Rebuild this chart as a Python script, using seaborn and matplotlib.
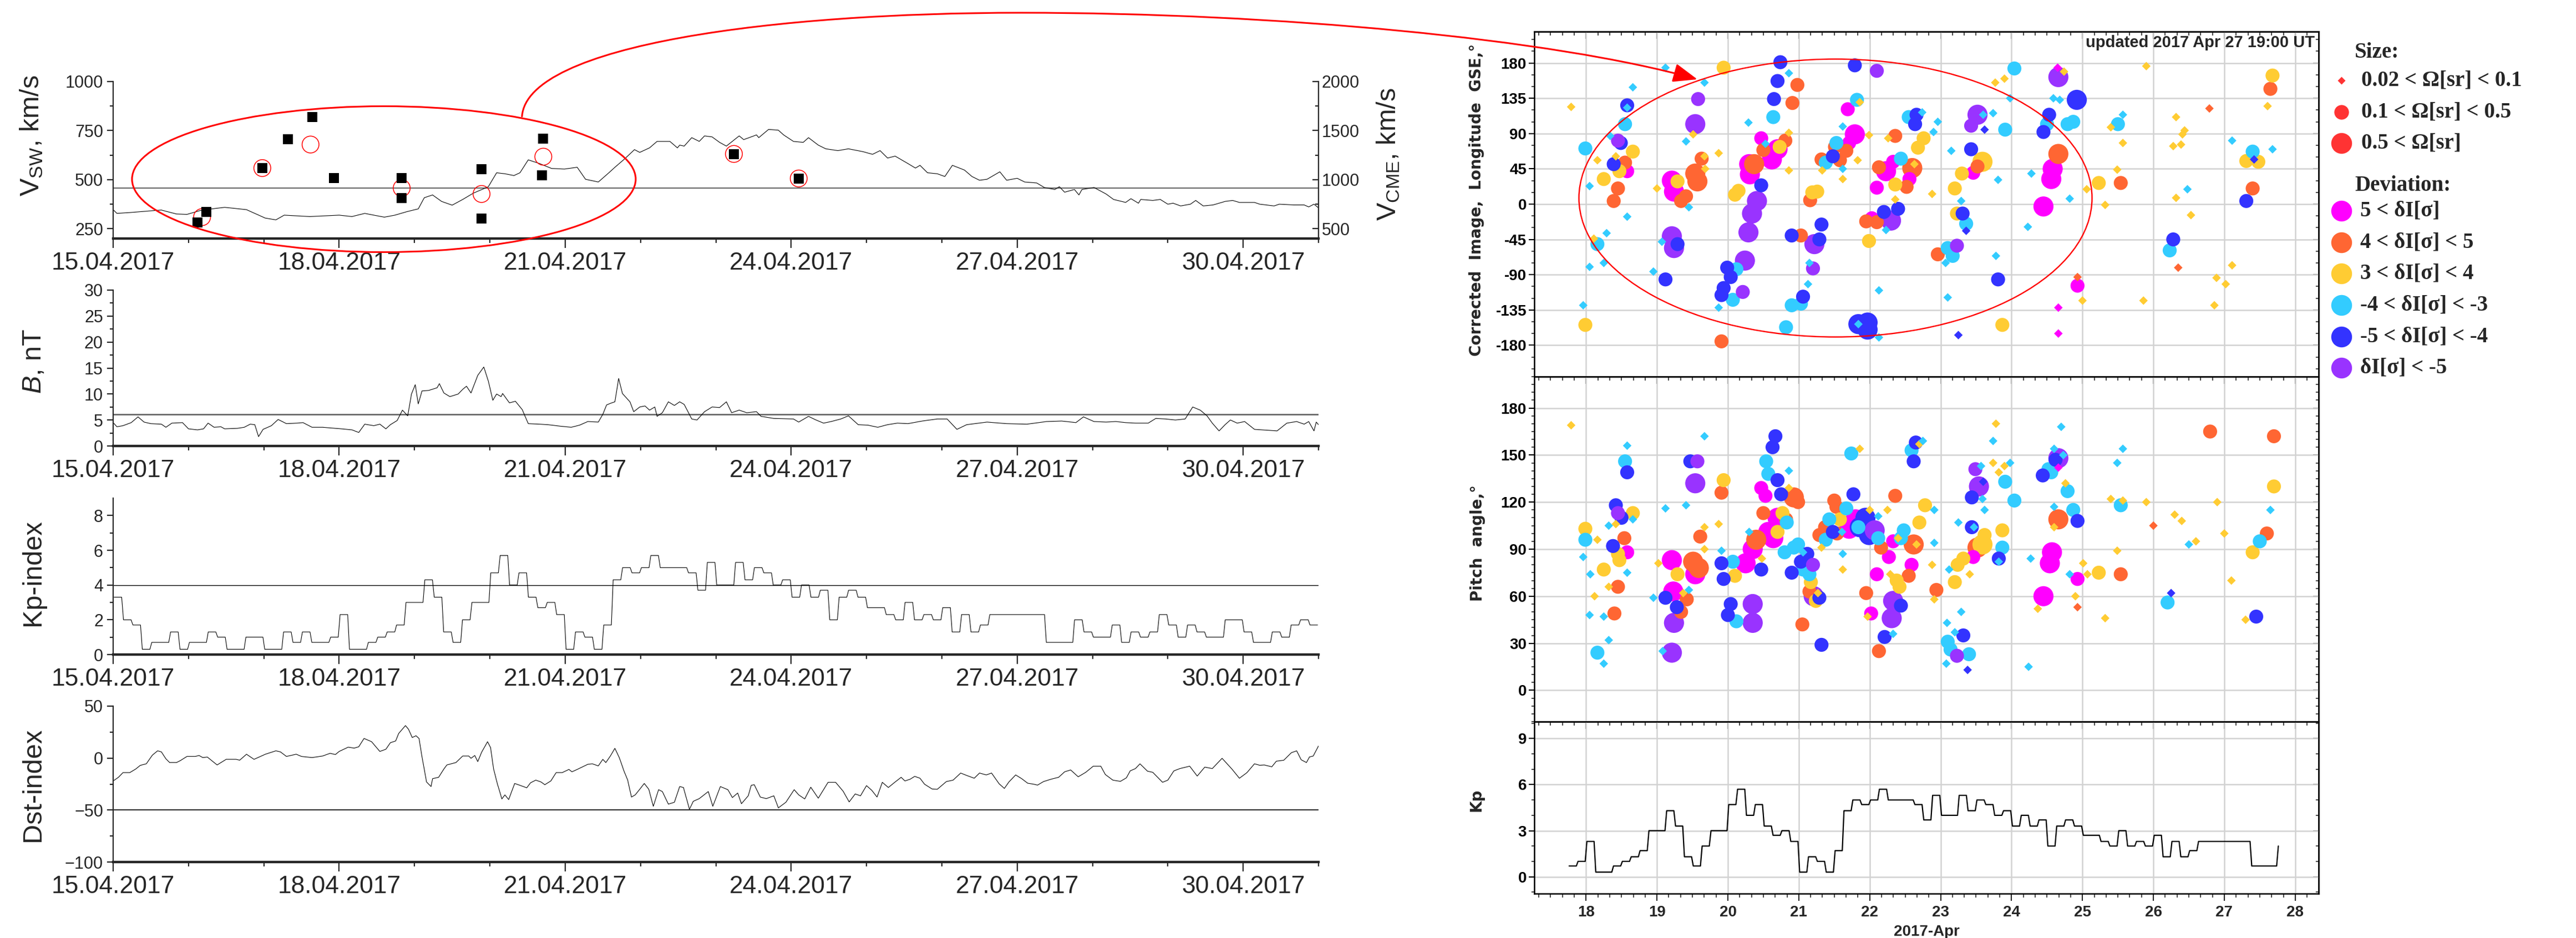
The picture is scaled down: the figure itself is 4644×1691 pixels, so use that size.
import numpy as np
import pandas as pd
import matplotlib
matplotlib.use("Agg")
import matplotlib.pyplot as plt
import seaborn as sns
from matplotlib.patches import Ellipse, FancyArrowPatch
from matplotlib.path import Path
from matplotlib.lines import Line2D
from matplotlib.ticker import FixedLocator, MultipleLocator, NullFormatter

# ====================== DATA ======================
# Left column: days since 15.04.2017 00:00
date_ticks = [0, 3, 6, 9, 12, 15]
date_labels = ['15.04.2017', '18.04.2017', '21.04.2017', '24.04.2017', '27.04.2017', '30.04.2017']

vsw_day = [0, 0.05, 0.24, 0.53, 0.64, 0.84, 0.98, 1.15, 1.31, 1.48, 1.77, 1.88, 2.02, 2.16, 2.27, 2.61, 3.0, 3.17,
           3.34, 3.46, 3.6, 3.74, 3.9, 4.05, 4.13, 4.24, 4.36, 4.5, 4.64, 4.78, 4.98, 5.09, 5.2, 5.32, 5.4, 5.51,
           5.66, 5.82, 5.99, 6.16, 6.27, 6.44, 6.58,
           6.66, 6.79, 6.92, 6.99, 7.12, 7.22, 7.39, 7.49, 7.52, 7.58, 7.68, 7.78, 7.85, 7.95, 8.05, 8.14, 8.31, 8.37,
           8.54, 8.57, 8.7, 8.83, 8.9, 9.03, 9.16, 9.23, 9.36, 9.46, 9.62, 9.76, 9.95, 10.08, 10.18, 10.28, 10.38,
           10.55, 10.65, 10.71, 10.81, 10.94, 11.04, 11.14, 11.3, 11.4, 11.5, 11.6, 11.77, 11.86, 12.0, 12.1, 12.26,
           12.36, 12.5, 12.56, 12.63, 12.76, 12.82, 12.86, 13.02, 13.18, 13.28, 13.44, 13.51, 13.61, 13.64, 13.8,
           13.9, 14.0, 14.07, 14.17, 14.3, 14.37, 14.47, 14.6, 14.76, 14.86, 14.95, 15.15, 15.22, 15.41, 15.48,
           15.67, 15.81, 15.87, 15.94, 16.0]
vsw_val = [347, 328, 333, 342, 345, 325, 323, 342, 351, 359, 347, 328, 304, 295, 319, 312, 319, 312, 328, 319,
           309, 319, 337, 351, 408, 422, 389, 370, 399, 431, 464, 535, 530, 521, 535, 601, 582, 557, 554, 563,
           502, 488, 535,
           563, 606, 653, 639, 662, 695, 695, 662, 676, 671, 714, 695, 723, 718, 690, 671, 723, 704, 728, 714,
           756, 752, 728, 695, 690, 714, 676, 657, 648, 657, 643, 629, 648, 610, 620, 582, 559, 573, 535, 530,
           516, 573, 549, 516, 497, 502, 540, 497, 507, 488, 483, 460, 450, 464, 436, 450, 422, 450, 460, 427,
           399, 384, 403, 380, 399, 394, 399, 375, 380, 366, 375, 394, 366, 371, 389, 394, 384, 384, 375, 366,
           375, 371, 371, 361, 375, 356]
vsw_ref = 458

cme_day = [1.12, 1.24, 1.98, 2.32, 2.64, 2.93, 3.83, 3.83, 4.89, 4.89, 5.71, 5.69, 8.24, 9.10]
cme_speed = [562, 674, 1118, 1414, 1640, 1018, 1014, 810, 1108, 604, 1418, 1042, 1262, 1012]
arr_day = [1.18, 1.98, 2.62, 3.83, 4.89, 5.71, 8.24, 9.10]
arr_speed = [309, 559, 679, 457, 427, 617, 631, 506]

b_day = [0, 0.05, 0.13, 0.24, 0.33, 0.41, 0.5, 0.64, 0.7, 0.78, 0.92, 1.0, 1.12, 1.2, 1.26, 1.34, 1.43, 1.48,
         1.65, 1.74, 1.82, 1.88, 1.93, 1.99, 2.1, 2.19, 2.3, 2.44, 2.52, 2.64, 2.78, 2.95, 3.03, 3.17, 3.26,
         3.34, 3.46, 3.54, 3.62, 3.68, 3.77, 3.84, 3.91, 3.96, 4.01, 4.05, 4.1, 4.19, 4.3, 4.33, 4.39, 4.47,
         4.58, 4.64, 4.69, 4.75, 4.84, 4.92, 4.98, 5.04, 5.09, 5.15, 5.17, 5.26, 5.34, 5.43, 5.51, 5.66, 5.77,
         5.94, 6.08, 6.19, 6.3, 6.44, 6.5, 6.55,
         6.6, 6.66, 6.71, 6.76, 6.86, 6.91, 6.99, 7.06, 7.12, 7.19, 7.22, 7.29, 7.37, 7.45, 7.52, 7.58, 7.68,
         7.75, 7.85, 7.95, 8.05, 8.14, 8.21, 8.31, 8.41, 8.54, 8.6, 8.77, 9.03, 9.1, 9.23, 9.33, 9.43, 9.53,
         9.66, 9.76, 9.89, 10.02, 10.15, 10.28, 10.41, 10.55, 10.74, 10.94, 11.07, 11.2, 11.33, 11.6, 11.86,
         12.13, 12.39, 12.59, 12.78, 12.88, 13.02, 13.18, 13.31, 13.44, 13.57, 13.74, 13.84, 13.97, 14.1,
         14.23, 14.33, 14.43, 14.52, 14.59, 14.68, 14.76, 14.83, 14.92, 15.02, 15.15, 15.35, 15.45, 15.58,
         15.71, 15.81, 15.87, 15.94, 15.97, 16.0]
b_val = [4.5, 3.7, 3.9, 4.5, 5.6, 4.6, 4.3, 4.2, 3.6, 4.4, 4.5, 3.3, 3.1, 3.3, 4.4, 3.6, 3.7, 3.3, 3.4, 3.6,
         4.2, 4.1, 1.8, 3.2, 3.9, 5.1, 4.3, 4.4, 4.5, 3.6, 3.6, 3.4, 3.3, 3.1, 2.6, 4.2, 3.9, 4.2, 3.3, 4.1,
         4.9, 6.9, 5.8, 10.0, 11.8, 8.1, 10.6, 10.7, 11.2, 12.0, 10.2, 9.5, 10.0, 10.9, 11.5, 10.2, 13.6, 15.2,
         12.5, 8.8, 10.0, 9.5, 10.1, 8.3, 8.6, 7.0, 4.3, 4.2, 4.1, 3.8, 3.6, 4.0, 4.7, 4.6, 6.1, 7.9,
         8.2, 8.5, 13.0, 10.1, 8.5, 6.6, 7.5, 7.7, 6.9, 7.5, 5.7, 6.4, 8.5, 7.8, 8.5, 8.0, 5.2, 5.0, 6.6, 7.5,
         7.4, 8.5, 6.4, 6.9, 6.4, 6.6, 5.7, 5.3, 5.2, 4.6, 5.7, 5.0, 4.4, 4.7, 5.2, 5.8, 4.1, 4.0, 3.6, 4.1,
         4.4, 4.3, 4.8, 5.2, 5.2, 3.2, 4.1, 4.6, 4.3, 4.2, 4.7, 4.8, 4.5, 5.6, 4.7, 4.6, 4.7, 4.5, 4.4, 4.4,
         5.3, 5.2, 5.0, 5.2, 7.5, 6.9, 5.8, 4.4, 2.9, 4.1, 5.0, 4.4, 4.7, 3.2, 3.0, 2.9, 4.4, 4.7, 4.2, 4.7,
         2.9, 4.6, 4.1]
b_ref = 6.1

# 3-hourly Kp values starting 15.04.2017 00 UT
kp_val = [3.3, 2.0, 1.7, 0.3, 0.7, 0.7, 1.3, 0.3, 0.7, 0.7, 1.3, 1.0, 0.3, 0.3, 1.0, 1.0,
          0.3, 0.3, 1.3, 0.7, 1.3, 0.7, 0.7, 1.0, 2.3, 0.3, 0.3, 0.7, 1.0, 1.3, 1.7, 3.0,
          3.0, 4.3, 3.3, 1.3, 0.7, 2.0, 3.0, 3.0, 4.7, 5.7, 4.0, 4.7, 3.3, 2.7, 3.0, 2.3,
          0.3, 1.3, 1.0, 0.3, 1.7, 4.3, 5.0, 4.7, 5.0, 5.7, 5.0, 5.0, 5.0, 4.7, 3.7, 5.3,
          4.0, 4.0, 5.3, 4.3, 5.0, 4.7, 4.0, 4.3, 3.3, 4.0, 3.3, 3.7, 2.0, 3.3, 3.7, 3.3,
          2.7, 2.7, 2.3, 2.0, 3.0, 2.0, 2.3, 2.0, 2.7, 1.3, 2.3, 1.3, 1.7, 2.3, 2.3, 2.3,
          2.3, 2.3, 2.3, 0.7, 0.7, 0.7, 2.0, 1.3, 1.0, 1.0, 1.7, 0.7, 1.3, 1.0, 1.3, 2.3,
          1.7, 1.0, 1.7, 1.3, 1.0, 1.0, 2.0, 2.0, 1.3, 0.7, 0.7, 1.3, 1.0, 1.7, 2.0, 1.7]
kp_ref = 4

dst_day = [0, 0.07, 0.13, 0.22, 0.3, 0.36, 0.44, 0.52, 0.59, 0.64, 0.7, 0.75, 0.84, 0.89, 0.98, 1.09, 1.14,
           1.19, 1.25, 1.38, 1.5, 1.63, 1.68, 1.77, 1.87, 2.02, 2.16, 2.22, 2.3, 2.43, 2.5, 2.64, 2.78, 2.88,
           2.95, 3.0, 3.12, 3.2, 3.26, 3.33, 3.43, 3.54, 3.62, 3.68, 3.75, 3.79, 3.88, 3.92, 3.97, 4.02, 4.06,
           4.1, 4.16, 4.22, 4.24, 4.32, 4.39, 4.43, 4.55, 4.64, 4.72, 4.75, 4.8, 4.84, 4.89, 4.97, 5.01, 5.05,
           5.1, 5.16, 5.2, 5.25, 5.33, 5.4, 5.49, 5.54, 5.61, 5.68, 5.73, 5.81, 5.88, 5.96, 6.05, 6.09, 6.16,
           6.3, 6.36, 6.44, 6.5, 6.54,
           6.6, 6.66, 6.72, 6.78, 6.83, 6.88, 6.93, 6.99, 7.05, 7.11, 7.17, 7.24, 7.29, 7.37, 7.45, 7.52, 7.57,
           7.65, 7.7, 7.78, 7.9, 7.96, 8.06, 8.16, 8.22, 8.29, 8.34, 8.43, 8.47, 8.51, 8.59, 8.67, 8.77, 8.83,
           8.93, 9.04, 9.1, 9.18, 9.26, 9.36, 9.49, 9.59, 9.69, 9.77, 9.85, 9.92, 10.0, 10.07, 10.14, 10.21,
           10.29, 10.38, 10.46, 10.51, 10.58, 10.64, 10.71, 10.77, 10.87, 10.94, 11.06, 11.15, 11.25, 11.33,
           11.43, 11.5, 11.59, 11.66, 11.76, 11.83, 11.89, 11.98, 12.06, 12.14, 12.22, 12.27, 12.35, 12.45,
           12.55, 12.63, 12.71, 12.81, 12.91, 13.01, 13.11, 13.17, 13.27, 13.37, 13.45, 13.5, 13.57, 13.63,
           13.73, 13.8, 13.93, 14.0, 14.08, 14.16, 14.29, 14.39, 14.49, 14.59, 14.72, 14.85, 14.95, 15.05,
           15.15, 15.22, 15.28, 15.38, 15.44, 15.54, 15.64, 15.71, 15.77, 15.84, 15.88, 15.93, 16.0]
dst_val = [-22, -18.5, -14, -14, -10.5, -7, -5.5, 2.8, 7, 6, -0.7, -4.3, -4.3, -2.5, 1.6, 1.6, 2.5, 0.5, 1,
           -6.6, -1.2, -1.2, -2, 3.7, -1.2, 3.7, 7, 6, 1.6, 3.7, 1.6, 0.5, 2, 4.6, 3.4, 6.4, 10.5, 9.6, 10.9,
           18.9, 15.8, 6.4, 8.5, 14.8, 16.5, 23.7, 31.3, 27.8, 19.8, 21.5, 18.9, 1.1, -23, -27.4, -19.8, -18.5,
           -10.5, -6.6, -4.3, 2, 2, -0.2, 2.5, -3.4, 5.5, 15.8, 10, -10.5, -24.7, -39.3, -35.4, -39.9, -24.4,
           -26.2, -28.6, -23.8, -21.2, -23, -25.6, -22, -14, -14, -10.9, -13.2, -10.9, -6, -5.5, -7.5, -1.2,
           -4.3,
           2, 9.4, 0.2, -12.3, -21.2, -37.5, -35.4, -30, -24.4, -30, -46.4, -30.4, -32.2, -44.3, -42.5, -27.4,
           -28.3, -49.3, -41.6, -39, -32.2, -46.4, -27.4, -30.4, -38, -33.6, -43.9, -36.3, -26.2, -25.6, -37.5,
           -39, -36.3, -47.9, -42.5, -30.4, -35.4, -39.3, -28, -38.6, -23.3, -23.3, -31.9, -42.2, -34.5, -36.3,
           -26.5, -31, -37.5, -23.3, -28.3, -23, -18.5, -22, -20.3, -17.6, -19.4, -25.1, -29.7, -30, -22.6,
           -21.2, -14.4, -16.7, -19.4, -14.4, -16.2, -14.4, -24.7, -29.2, -23, -16.2, -19.8, -24.2, -25.1, -26,
           -22.6, -20.3, -18.5, -13.2, -11.4, -18, -13.7, -7.8, -7.8, -15.8, -21.2, -22.4, -19, -12.3, -10.1,
           -5.5, -12.6, -13.7, -23.3, -21.2, -12.3, -10.1, -7.8, -17.3, -8.7, -10.1, -0.2, -10.5, -19.4, -14,
           -5.5, -6.9, -6.6, -8.4, -3, -2, 5.2, 7, -1.6, -4.3, 1.1, 2, 11.7]
dst_ref = -50

# Right column: day of April 2017.  size classes: s (0.02-0.1 sr), m (0.1-0.5 sr), l (>0.5 sr)
day_labels_r = ['18', '19', '20', '21', '22', '23', '24', '25', '26', '27', '28']
dev_codes = ['M', 'O', 'Y', 'C', 'B', 'P']
dev_colors = ['#FF00FF', '#FF6633', '#FFCC33', '#33CCFF', '#3333FF', '#9933FF']
size_labels = ['0.02 < \u03a9[sr] < 0.1', '0.1 < \u03a9[sr] < 0.5', '0.5 < \u03a9[sr]']
dev_labels = ['5 < \u03b4I[\u03c3]', '4 < \u03b4I[\u03c3] < 5', '3 < \u03b4I[\u03c3] < 4',
              '-4 < \u03b4I[\u03c3] < -3', '-5 < \u03b4I[\u03c3] < -4', '\u03b4I[\u03c3] < -5']

# --- Longitude panel ---
lon_M_day = [19.21, 19.24, 18.58, 20.31, 20.30, 20.47, 20.62, 20.70, 21.71, 21.79, 21.69, 22.03, 22.10, 22.23,
             22.33, 22.56, 23.46, 24.56, 24.58, 24.45, 24.65, 24.93, 24.66, 24.66]
lon_M_val = [30, 16, 42, 38, 51, 84, 57, 70, 78, 89, 121, -18, 21, 42, 54, 32, 40, 32, 45, -3, 174, -104, -132, -165]
lon_M_size = "llmllmllmlmmmlmmmlllsmss"

lon_O_day = [18.39, 18.45, 18.55, 19.54, 19.57, 19.41, 19.34, 19.63, 19.91, 20.37, 20.50, 20.81, 20.98, 20.91,
             21.03, 21.16, 21.32, 21.51, 21.58, 21.67, 21.95, 22.10, 22.13, 22.36, 22.52, 22.60, 22.96, 23.52,
             24.66, 24.93, 25.54, 26.35, 26.79, 27.40, 27.65]
lon_O_val = [4, 20, 53, 39, 29, 10, 4, 58, -175, 51, 69, 81, 152, 129, -40, 5, 57, 73, 56, 68, -22, -23, 47, 87,
             22, 46, -64, 48, 64, -93, 27, -81, 122, 20, 147]
lon_O_size = "mmmllmmmmlmmmmmmmmmmmmmmmlmmlsmssmm"

lon_Y_day = [17.79, 17.99, 18.16, 18.11, 18.25, 18.42, 18.47, 18.66, 19.00, 19.29, 19.51, 19.67, 19.68, 19.87,
             19.94, 20.10, 20.15, 20.73, 20.86, 20.86, 21.19, 21.26, 21.33, 21.62, 21.86, 21.99, 21.83, 21.99,
             22.36, 22.26, 22.36, 22.63, 22.68, 22.76, 22.88, 23.23, 23.20, 23.30, 23.59, 23.77, 23.90, 23.87,
             24.74, 25.00, 25.06, 25.23, 25.32, 25.40, 25.57, 25.49, 25.86, 25.90, 26.32, 26.41, 26.44, 26.28,
             26.39, 26.32, 26.53, 27.11, 26.89, 27.02, 26.86, 27.31, 27.48, 27.68, 27.61]
lon_Y_val = [124, -154, 56, -44, 32, 61, 42, 67, 20, 29, 89, 61, 45, 65, 174, 12, 17, 73, 91, 43, 15, 16, 43, 32,
             130, 88, 56, -47, 6, 84, 25, 51, 72, 84, 13, -12, 20, 39, 54, 155, 160, -154, 169, -123, 19, 27, -1,
             98, 78, 44, -123, 176, 111, 89, 94, 74, 76, 8, -14, -78, -94, -102, -129, 55, 54, 164, 125]
lon_Y_size = "smssmsmmsm" "ssssmmmmss" "mmsssssmss" "msmmsmmmls" "smsssmssss" "ssssssssss" "sssmmms"

lon_C_day = [17.99, 17.96, 18.05, 18.05, 18.16, 18.25, 18.29, 18.34, 18.55, 18.58, 18.66, 18.58, 19.12, 18.95,
             19.07, 19.41, 19.45, 19.67, 19.87, 20.12, 20.07, 20.29, 20.53, 20.64, 20.86, 21.15, 21.13, 21.03,
             20.90, 20.82, 21.38, 21.53, 21.62, 21.82, 21.62, 22.23, 22.13, 22.13, 21.84, 22.44, 22.90, 22.96,
             22.55, 22.74, 23.10, 23.17, 23.07, 23.10, 23.36, 23.29, 23.15, 23.60, 23.74, 23.81, 23.78, 23.91,
             23.98, 24.04, 24.28, 24.23, 24.50, 24.59, 24.68, 24.79, 24.87, 24.82, 25.50, 25.57, 26.48, 26.23,
             27.11, 27.40, 27.68]
lon_C_val = [71, -129, 23, -80, -51, -75, -37, 87, 102, 123, 149, -16, 174, -86, -48, 80, -4, 155, -132, -83,
             -122, 104, 77, 111, 167, -75, -102, -127, -129, -157, 53, 78, 45, 133, 99, -33, -110, -170, -153, 58,
             92, 105, 111, 117, -56, -66, -75, -119, -25, 4, 68, 114, 116, 31, -66, 95, 135, 173, 39, -29, 102,
             135, 133, 102, 105, 7, 102, 114, 19, -59, 81, 67, 70]
lon_C_size = "msssmsssms" "sssssssssm" "mssmsssmmm" "mmsmsssssm" "ssmsmmssms" "sssssmsmss" "mssmmsmssm" "sms"

lon_B_day = [18.39, 18.49, 18.58, 19.12, 19.29, 19.99, 20.04, 19.94, 19.91, 20.47, 20.65, 20.70, 20.74, 20.90,
             21.32, 21.29, 21.06, 21.48, 21.79, 22.20, 22.40, 21.84, 21.97, 21.97, 22.64, 22.66, 23.25, 23.31,
             23.36, 23.43, 23.62, 23.81, 24.45, 24.53, 24.92, 26.28, 27.42, 27.31]
lon_B_val = [51, 78, 126, -96, -51, -81, -93, -107, -116, 24, 134, 157, 181, -40, -26, -45, -118, 61, 177, -10,
             -6, -153, -151, -160, 102, 114, -167, -12, -34, 70, 95, -96, 92, 114, 133, -45, 57, 4]
lon_B_size = "mmmmmmmmmm" "mmmmmmmmmm" "mlllmmsmsm" "smmmlmsm"

lon_P_day = [18.45, 19.21, 19.24, 19.54, 19.58, 20.24, 20.21, 20.29, 20.34, 20.41, 21.22, 21.20, 22.30, 22.10,
             23.23, 23.43, 23.52, 24.66]
lon_P_val = [81, -41, -56, 102, 134, -72, -112, -36, -12, 4, -51, -82, -21, 170, -53, 100, 114, 162]
lon_P_size = "mlllmlmllllmlmmmll"

# --- Pitch-angle panel ---
pit_M_day = [18.58, 19.21, 19.23, 19.54, 20.25, 20.35, 20.47, 20.53, 20.57, 20.64, 20.70, 21.71, 21.80, 22.33,
             22.27, 22.10, 22.02, 22.59, 23.46, 24.66, 24.57, 24.54, 24.93, 24.45]
pit_M_val = [88, 83, 63, 74, 81, 90, 129, 124, 101, 97, 110, 103, 109, 95, 85, 74, 49, 80, 85, 142, 88, 81, 71, 60]
pit_M_size = "mlllllmmll" "lllmmmmmms" "llml"

pit_O_day = [18.45, 18.40, 18.54, 19.42, 19.34, 19.51, 19.59, 19.61, 19.91, 20.40, 20.50, 20.82, 20.93, 20.99,
             21.15, 21.05, 21.29, 21.37, 21.54, 21.53, 21.50, 22.16, 22.36, 21.95, 22.13, 22.55, 22.62, 22.94,
             23.52, 24.66, 24.93, 25.54, 26.00, 26.80, 27.60, 27.70]
pit_O_val = [66, 49, 97, 58, 50, 82, 78, 98, 126, 96, 113, 109, 123, 120, 63, 42, 99, 104, 100, 117, 121, 91, 124,
             62, 25, 73, 93, 64, 91, 109, 53, 74, 105, 165, 100, 162]
pit_O_size = "mmmmmllmml" "mmlmmmmmmm" "mmmmmmlmll" "smsmmm"

pit_Y_day = [17.79, 17.99, 18.12, 18.16, 18.25, 18.32, 18.42, 18.45, 18.47, 18.66, 19.02, 19.29, 19.37, 19.67,
             19.67, 19.87, 19.94, 20.10, 20.48, 20.70, 20.77, 20.86, 21.17, 21.24, 21.27, 21.32, 21.58, 21.62,
             21.86, 22.00, 22.25, 22.40, 22.29, 22.38, 22.42, 21.97, 22.66, 22.70, 22.78, 22.70, 22.88, 22.91,
             23.20, 23.24, 23.32, 23.41, 23.59, 23.62, 23.74, 23.78, 23.82, 23.90, 23.87, 24.76, 24.60, 25.01,
             25.07, 24.90, 24.37, 25.23, 25.32, 25.40, 25.57, 25.49,
             25.90, 26.30, 26.40, 26.60, 26.90, 27.00, 27.10, 27.30, 27.40, 27.70]
pit_Y_val = [169, 103, 60, 96, 77, 66, 106, 87, 83, 113, 81, 74, 62, 104, 90, 106, 134, 73, 84, 101, 113, 129, 69,
             57, 62, 91, 109, 77, 154, 115, 115, 97, 74, 70, 66, 47, 93, 107, 118, 157, 80, 58, 69, 80, 84, 74, 93,
             99, 145, 170, 139, 143, 102, 132, 104, 81, 74, 60, 52, 75, 46, 122, 121, 89,
             120, 112, 108, 95, 120, 100, 70, 45, 88, 130]
pit_Y_size = "smssmssmmm" "smssssmmsm" "msmmssmsss" "sssmmssmms" "ssmmmslmss" "ssmssssssm" "ssss" "ssssssssmm"

pit_C_day = [17.99, 17.96, 18.06, 18.05, 18.16, 18.25, 18.25, 18.32, 18.32, 18.58, 18.58, 18.55, 18.66, 18.95,
             19.12, 19.08, 19.41, 19.45, 19.67, 19.91, 20.07, 20.12, 20.30, 20.54, 20.57, 20.83, 20.86, 20.80,
             20.93, 20.99, 21.06, 21.06, 21.15, 21.38, 21.43, 21.61, 21.62, 21.67, 21.84, 21.74, 22.12, 22.12,
             22.44, 22.48, 22.33, 22.91, 22.59, 22.75, 22.91, 23.10, 23.14, 23.09, 23.08, 23.40, 23.20, 23.29,
             23.12, 23.47, 23.25, 23.59, 23.62, 23.57, 23.74, 23.98, 23.91, 23.82, 23.87, 24.04, 24.24, 24.27,
             24.52, 24.56, 24.73, 24.70, 24.60, 24.79, 24.60, 24.87, 24.82, 25.54, 25.57, 25.49,
             26.50, 26.20, 27.50, 27.65]
pit_C_val = [96, 85, 74, 48, 24, 17, 47, 105, 32, 75, 156, 146, 109, 59, 116, 25, 118, 64, 162, 89, 82, 44, 101,
             146, 138, 107, 140, 88, 91, 93, 88, 77, 74, 96, 109, 101, 87, 116, 104, 151, 97, 111, 97, 102, 36,
             115, 153, 159, 94, 31, 26, 43, 17, 23, 37, 50, 77, 104, 107, 122, 115, 143, 159, 145, 133, 82, 91,
             121, 15, 84, 141, 139, 150, 168, 154, 127, 117, 115, 74, 118, 154, 145,
             93, 56, 95, 115]
pit_C_size = "msssmsssss" "smssssssss" "mmsmmmsmmm" "smmmmssmmm" "msmmssmssm" "mssmssssss" "ssssmsmmss" "mmsssmsmsm" "ss" "smms"

pit_B_day = [18.38, 18.42, 18.50, 18.58, 19.12, 19.28, 19.47, 19.91, 19.94, 20.04, 20.00, 20.47, 20.70, 20.75,
             20.63, 20.67, 20.90, 21.12, 21.03, 21.29, 21.32, 21.48, 21.77, 21.86, 21.94, 21.99, 22.44, 22.21,
             22.62, 22.65, 23.32, 23.38, 23.44, 23.44, 23.60, 23.82, 24.44, 24.62, 24.93, 26.25, 27.45]
pit_B_val = [92, 118, 110, 139, 59, 53, 146, 81, 71, 55, 48, 77, 134, 125, 155, 162, 75, 87, 82, 59, 29, 101, 125,
             104, 110, 99, 54, 34, 146, 158, 35, 13, 104, 123, 133, 84, 137, 147, 108, 62, 47]
pit_B_size = "mmmmmmmmmm" "mmmmmmmmmm" "mmmlllmmmm" "msmmsmmmm" "sm"

pit_P_day = [18.45, 19.21, 19.24, 19.57, 19.54, 20.35, 20.35, 21.20, 21.21, 22.07, 22.33, 22.31, 23.23, 23.49,
             23.54, 24.66]
pit_P_val = [113, 24, 43, 146, 132, 55, 43, 80, 60, 102, 57, 46, 22, 141, 130, 148]
pit_P_size = "mllmlllmllllmmll"

# ====================== STYLE / LAYOUT ======================
sns.set_theme(style="ticks")
NARROW = ['Liberation Sans Narrow', 'Liberation Sans', 'DejaVu Sans']
SANS = ['Liberation Sans', 'DejaVu Sans']
BOLD_SANS = ['DejaVu Sans']
SERIF = ['Liberation Serif', 'DejaVu Serif']
plt.rcParams['font.family'] = NARROW
plt.rcParams['mathtext.fontset'] = 'custom'
plt.rcParams['mathtext.rm'] = 'Liberation Sans'
plt.rcParams['mathtext.it'] = 'Liberation Sans:italic'
plt.rcParams['axes.linewidth'] = 1.5

W, H = 4644, 1691
fig = plt.figure(figsize=(W / 100, H / 100), dpi=100, facecolor='white')


def box(x0, y0, x1, y1):
    return [x0 / W, 1 - y1 / H, (x1 - x0) / W, (y1 - y0) / H]


def fx(x):
    return x / W


def fy(y):
    return 1 - y / H


def left_axes(y0, y1, ylim, major, minor):
    ax = fig.add_axes(box(204, y0, 2377, y1))
    ax.set_xlim(0, 16)
    ax.set_ylim(*ylim)
    ax.xaxis.set_major_locator(FixedLocator(date_ticks))
    ax.xaxis.set_minor_locator(MultipleLocator(1))
    ax.set_xticklabels(date_labels)
    ax.yaxis.set_major_locator(FixedLocator(major))
    ax.yaxis.set_minor_locator(FixedLocator(minor))
    for s in ('top', 'right'):
        ax.spines[s].set_visible(False)
    ax.spines['bottom'].set_linewidth(3.2)
    ax.spines['left'].set_linewidth(1.6)
    ax.tick_params(axis='x', which='major', direction='out', length=12, width=1.6, labelsize=32, pad=5)
    ax.tick_params(axis='x', which='minor', direction='out', length=6, width=1.6)
    ax.tick_params(axis='y', which='major', direction='out', length=8, width=1.6, labelsize=22, pad=5)
    ax.tick_params(axis='y', which='minor', direction='out', length=4, width=1.6)
    return ax


def finish(ax):
    ax.set_xlabel('')
    ax.set_ylabel('')


# ---- Panel 1: solar wind speed + CME speeds ----
ax1 = left_axes(147, 430, (200, 1000), [250, 500, 750, 1000], [375, 625, 875])
sns.lineplot(x=vsw_day, y=vsw_val, ax=ax1, color='black', linewidth=0.8)
ax1.axhline(vsw_ref, color='#555555', lw=1.3, zorder=1)
sns.scatterplot(x=arr_day, y=arr_speed, ax=ax1, marker='o', s=480, facecolor='none', edgecolor='red',
                linewidth=1.1, zorder=6)
finish(ax1)
ax1b = ax1.twinx()
ax1b.set_ylim(400, 2000)
ax1b.yaxis.set_major_locator(FixedLocator([500, 1000, 1500, 2000]))
ax1b.yaxis.set_minor_locator(FixedLocator([750, 1250, 1750]))
for s in ('top', 'left', 'bottom'):
    ax1b.spines[s].set_visible(False)
ax1b.spines['right'].set_linewidth(1.6)
ax1b.tick_params(axis='y', which='major', direction='in', length=8, width=1.6, labelsize=22, pad=4)
ax1b.tick_params(axis='y', which='minor', direction='in', length=4, width=1.6)
sns.scatterplot(x=cme_day, y=cme_speed, ax=ax1b, marker='s', s=175, color='black', linewidth=0, zorder=5)
finish(ax1b)

# ---- Panel 2: B ----
ax2 = left_axes(523, 804, (0, 30), [0, 5, 10, 15, 20, 25, 30], [2.5, 7.5, 12.5, 17.5, 22.5, 27.5])
sns.lineplot(x=b_day, y=b_val, ax=ax2, color='black', linewidth=0.8)
ax2.axhline(b_ref, color='#6a6a6a', lw=2.0, zorder=1)
finish(ax2)

# ---- Panel 3: Kp ----
ax3 = left_axes(898, 1180, (0, 9), [0, 2, 4, 6, 8], [1, 3, 5, 7])
kp_start = np.arange(len(kp_val)) * 0.125
kp_x, kp_y = [], []
for t0, v in zip(kp_start, kp_val):
    kp_x += [t0 + 0.012, t0 + 0.125 - 0.012]
    kp_y += [v, v]
sns.lineplot(x=kp_x, y=kp_y, ax=ax3, color='black', linewidth=0.8, sort=False, estimator=None)
ax3.axhline(kp_ref, color='black', lw=1.0, zorder=1)
finish(ax3)

# ---- Panel 4: Dst ----
ax4 = left_axes(1273, 1554, (-100, 50), [-100, -50, 0, 50], [-75, -25, 25])
sns.lineplot(x=dst_day, y=dst_val, ax=ax4, color='black', linewidth=0.8)
ax4.axhline(dst_ref, color='black', lw=1.2, zorder=1)
finish(ax4)

# Left-column axis titles
lab_kw = dict(rotation=90, ha='center', va='center', fontsize=35, family=SANS)
fig.text(fx(57), fy(245), r'V$_{\rm SW}$, km/s', **lab_kw)
fig.text(fx(2503), fy(278), r'V$_{\rm CME}$, km/s', **lab_kw)
fig.text(fx(62), fy(651), r'$B$, nT', **lab_kw)
fig.text(fx(60), fy(1032), 'Kp-index', **lab_kw)
fig.text(fx(60), fy(1414), 'Dst-index', **lab_kw)


# ---- Right column ----
def right_axes(y0, y1, ylim, major, minor_step, bottom_labels=False):
    ax = fig.add_axes(box(2766, y0, 4180, y1))
    ax.set_xlim(17.27, 28.33)
    ax.set_ylim(*ylim)
    ax.set_xticks(list(range(18, 29)))
    ax.xaxis.set_minor_locator(MultipleLocator(1 / 6))
    ax.set_yticks(major)
    ax.set_yticklabels([str(v) for v in major], fontweight='bold', fontsize=20)
    ax.yaxis.set_minor_locator(MultipleLocator(minor_step))
    ax.grid(True, which='major', color='#d2d2d2', lw=1.8)
    ax.set_axisbelow(True)
    for s in ax.spines.values():
        s.set_linewidth(1.8)
        s.set_color('black')
    ax.tick_params(axis='y', which='major', direction='out', length=7, width=1.5, pad=3, colors='black')
    ax.tick_params(axis='y', which='minor', direction='out', length=3.5, width=1.2)
    secy = ax.secondary_yaxis('right')
    secy.yaxis.set_major_locator(FixedLocator(major))
    secy.yaxis.set_minor_locator(MultipleLocator(minor_step))
    secy.yaxis.set_major_formatter(NullFormatter())
    secy.tick_params(axis='y', which='major', direction='in', length=7, width=1.5)
    secy.tick_params(axis='y', which='minor', direction='in', length=3.5, width=1.2)
    secy.spines['right'].set_linewidth(1.8)
    if bottom_labels:
        ax.set_xticklabels(day_labels_r, fontweight='bold', fontsize=20)
        ax.tick_params(axis='x', which='major', direction='out', length=9, width=1.5, pad=6,
                       top=False, bottom=True)
        ax.tick_params(axis='x', which='minor', direction='out', length=5, width=1.2, top=False, bottom=True)
    else:
        ax.tick_params(axis='x', which='both', bottom=False, labelbottom=False, top=False)
    secx = ax.secondary_xaxis('top')
    secx.xaxis.set_major_locator(MultipleLocator(1))
    secx.xaxis.set_minor_locator(MultipleLocator(1 / 6))
    secx.xaxis.set_major_formatter(NullFormatter())
    secx.tick_params(axis='x', which='major', direction='in', length=9, width=1.5)
    secx.tick_params(axis='x', which='minor', direction='in', length=5, width=1.2)
    secx.spines['top'].set_linewidth(1.8)
    return ax


PAL = dict(zip(dev_codes, dev_colors))
SIZE_STYLE = {'l': ('o', 680), 'm': ('o', 330), 's': ('D', 62)}


def build_df(groups):
    rows = []
    for code, days, vals, sizes in groups:
        for d, v, c in zip(days, vals, sizes):
            rows.append((d, v, code, c))
    return pd.DataFrame(rows, columns=['day', 'val', 'dev', 'cls'])


def scatter_panel(ax, df):
    for cls in ('l', 'm', 's'):
        sub = df[df['cls'] == cls]
        mk, s = SIZE_STYLE[cls]
        sns.scatterplot(data=sub, x='day', y='val', hue='dev', palette=PAL, marker=mk, s=s,
                        linewidth=0, legend=False, ax=ax, zorder=3)
    finish(ax)


axR1 = right_axes(57, 679, (-220, 220), [-180, -135, -90, -45, 0, 45, 90, 135, 180], 15)
lon_df = build_df([('M', lon_M_day, lon_M_val, lon_M_size), ('O', lon_O_day, lon_O_val, lon_O_size),
                   ('Y', lon_Y_day, lon_Y_val, lon_Y_size), ('C', lon_C_day, lon_C_val, lon_C_size),
                   ('B', lon_B_day, lon_B_val, lon_B_size), ('P', lon_P_day, lon_P_val, lon_P_size)])
scatter_panel(axR1, lon_df)

axR2 = right_axes(679, 1301, (-20, 200), [0, 30, 60, 90, 120, 150, 180], 5)
pit_df = build_df([('M', pit_M_day, pit_M_val, pit_M_size), ('O', pit_O_day, pit_O_val, pit_O_size),
                   ('Y', pit_Y_day, pit_Y_val, pit_Y_size), ('C', pit_C_day, pit_C_val, pit_C_size),
                   ('B', pit_B_day, pit_B_val, pit_B_size), ('P', pit_P_day, pit_P_val, pit_P_size)])
scatter_panel(axR2, pit_df)

axR3 = right_axes(1301, 1611, (-1.1, 10.1), [0, 3, 6, 9], 1, bottom_labels=True)
kp_r = pd.DataFrame({'day': np.array(kp_x) + 15, 'kp': kp_y})
kp_r = kp_r[(kp_r['day'] >= 17.76) & (kp_r['day'] <= 27.78)]
sns.lineplot(data=kp_r, x='day', y='kp', ax=axR3, color='black', linewidth=1.6, sort=False, estimator=None)
finish(axR3)

rlab = dict(rotation=90, ha='center', va='center', fontsize=20, fontweight='bold', family=BOLD_SANS)
fig.text(fx(2662), fy(360), 'Corrected  Image,  Longitude  GSE,\u00b0', **rlab)
fig.text(fx(2664), fy(979), 'Pitch  angle,\u00b0', **rlab)
fig.text(fx(2662), fy(1442), 'Kp', **rlab)
fig.text(fx(3473), fy(1680), '2017-Apr', ha='center', va='center', fontsize=20, fontweight='bold')
fig.text(fx(4173), fy(77), 'updated 2017 Apr 27 19:00 UT', ha='right', va='center', fontsize=21,
         fontweight='bold')

# ---- Legend (Size / Deviation) ----
leg_txt = dict(ha='left', va='center', fontsize=28, fontweight='bold', family=SERIF)
fig.text(fx(4245), fy(94), 'Size:', **leg_txt)
size_rows = [145, 202, 258]
size_mk = [('D', 7.5), ('o', 19), ('o', 27)]
for yy, lab, (mk, ms) in zip(size_rows, size_labels, size_mk):
    fig.add_artist(Line2D([fx(4221)], [fy(yy)], marker=mk, ms=ms, color='#FF3333', mec='none',
                          transform=fig.transFigure))
    fig.text(fx(4257), fy(yy), lab, **leg_txt)
fig.text(fx(4245), fy(335), 'Deviation:', **leg_txt)
dev_rows = [380, 437, 493, 550, 607, 663]
for yy, lab, col in zip(dev_rows, dev_labels, dev_colors):
    fig.add_artist(Line2D([fx(4221)], [fy(yy)], marker='o', ms=27, color=col, mec='none',
                          transform=fig.transFigure))
    fig.text(fx(4255), fy(yy), lab, **leg_txt)

# ---- Red annotations ----
fig.add_artist(Ellipse((fx(692), fy(323)), 908 / W, 263 / H, transform=fig.transFigure, fill=False,
                       ec='red', lw=2.2, zorder=20))
fig.add_artist(Ellipse((fx(3309), fy(357)), 925 / W, 501 / H, transform=fig.transFigure, fill=False,
                       ec='red', lw=1.7, zorder=20))
pts = [(941, 210), (950, 80), (1400, 23), (1841, 23), (2300, 23), (2800, 70), (3060, 143)]
verts = [(fx(x), fy(y)) for x, y in pts]
codes = [Path.MOVETO] + [Path.CURVE4] * 6
arrow = FancyArrowPatch(path=Path(verts, codes), arrowstyle='-|>,head_length=0.9,head_width=0.35',
                        mutation_scale=30, color='red', lw=2.2, transform=fig.transFigure, zorder=21)
fig.add_artist(arrow)

fig.savefig('out.png', dpi=100, facecolor='white')
